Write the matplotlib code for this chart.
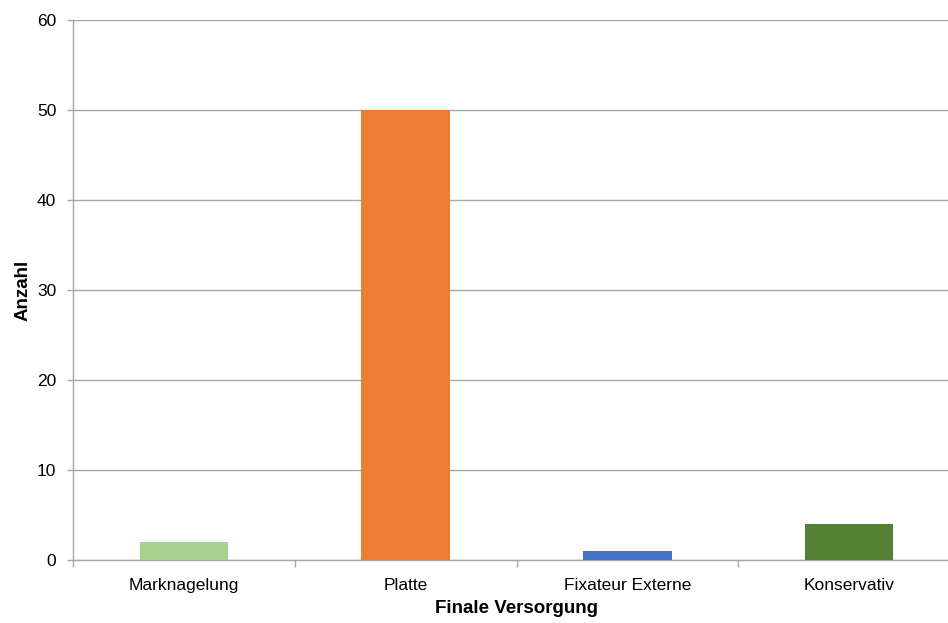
import matplotlib
matplotlib.use("Agg")
import matplotlib.pyplot as plt
import numpy as np

plt.rcParams["font.family"] = ["Liberation Sans", "DejaVu Sans"]

kategorien = ["Marknagelung", "Platte", "Fixateur Externe", "Konservativ"]
anzahl = [2, 50, 1, 4]
farben = ["#A9D18E", "#ED7D31", "#4472C4", "#548235"]
y_ticks = [0, 10, 20, 30, 40, 50, 60]

grid_col = "#A6A6A6"

fig = plt.figure(figsize=(9.48, 6.23), dpi=100)
ax = fig.add_axes([73 / 948, 1 - 560 / 623, 887 / 948, 540 / 623])

x = np.arange(len(kategorien))
ax.bar(x, anzahl, width=0.4, color=farben, zorder=3)

ax.set_xlim(-0.5, len(kategorien) - 0.5)
ax.set_ylim(0, 60)
ax.set_yticks(y_ticks)
ax.yaxis.grid(True, color=grid_col, linewidth=1.0, zorder=0)

# Kategorie-Beschriftungen mittig, Teilstriche an den Grenzen
ax.set_xticks(x)
ax.set_xticklabels(kategorien, fontsize=12.5)
ax.set_xticks(np.arange(-0.5, len(kategorien) - 0.5), minor=True)
ax.tick_params(axis="x", which="major", length=0, pad=13)
ax.tick_params(axis="x", which="minor", length=5, color=grid_col, width=1.0)
ax.tick_params(axis="y", length=4, color=grid_col, width=1.0, labelsize=12.5, pad=8)

for s in ["top", "right"]:
    ax.spines[s].set_visible(False)
for s in ["left", "bottom"]:
    ax.spines[s].set_color(grid_col)
    ax.spines[s].set_linewidth(1.0)

ax.set_xlabel("Finale Versorgung", fontsize=13.5, fontweight="bold", labelpad=5)
ax.set_ylabel("Anzahl", fontsize=13.5, fontweight="bold", labelpad=4)

fig.savefig("out.png", dpi=100)
